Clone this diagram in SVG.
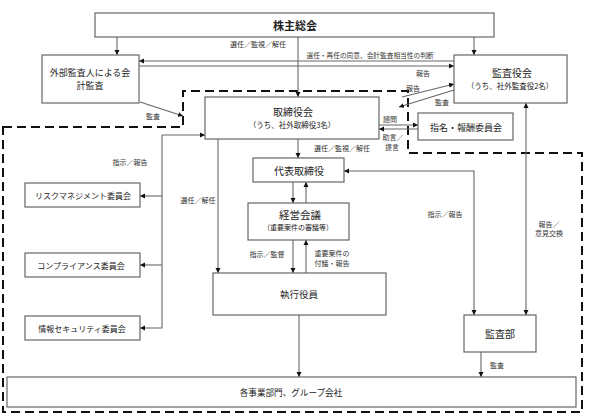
<svg xmlns="http://www.w3.org/2000/svg" width="592" height="414" viewBox="0 0 592 414">
<defs>
<marker id="ah" markerUnits="userSpaceOnUse" markerWidth="6" markerHeight="6" refX="5" refY="3" orient="auto-start-reverse">
<path d="M0,0.5 L5,3 L0,5.5 z" fill="#111"/>
</marker>
<style>
text{font-family:"Noto Sans CJK JP","Noto Sans",sans-serif;fill:#222;text-anchor:middle;dominant-baseline:central}
.box{fill:#fff;stroke:#666;stroke-width:1.2}
.ln{fill:none;stroke:#666;stroke-width:1.1}
.ae{marker-end:url(#ah)}
.ab{marker-start:url(#ah);marker-end:url(#ah)}
.lb{font-size:7px;fill:#333}
.sub{font-size:7.5px}
</style>
</defs>
<rect width="592" height="414" fill="#fff"/>
<path d="M3,127 H183 V91 H408 V153 H582 V412 H3 Z" fill="none" stroke="#111" stroke-width="2" stroke-dasharray="9 5"/>
<g id="connectors">
<path class="ln ae" d="M117,37 V55"/>
<path class="ln ae" d="M474,37 V55"/>
<path class="ln ae" d="M298,37 V97"/>
<path class="ln ae" d="M454,61 H139"/>
<path class="ln ae" d="M139,66 H454"/>
<path class="ln ae" d="M140,102 L183,116"/>
<path class="ln ae" d="M402,97 L454,84"/>
<path class="ln ae" d="M454,90 L399,107"/>
<path class="ln ae" d="M379,125 H418"/>
<path class="ln ae" d="M418,129 H379"/>
<path class="ln ae" d="M298,139 V158"/>
<path class="ln ae" d="M218,139 V273"/>
<path class="ln ae" d="M162,135 H205"/>
<path class="ln ae" d="M162,135 V328 H140"/>
<path class="ln ae" d="M162,196 H140"/>
<path class="ln ae" d="M162,265 H140"/>
<path class="ln ae" d="M293,182 V203"/>
<path class="ln ae" d="M306,203 V182"/>
<path class="ln ae" d="M293,240 V273"/>
<path class="ln ae" d="M306,273 V240"/>
<path class="ln ab" d="M474,315 V171 H344"/>
<path class="ln ab" d="M526,103 V315"/>
<path class="ln ae" d="M299,315 V377"/>
<path class="ln ae" d="M481,352 V377"/>
<text class="lb" x="258" y="44">選任／監視／解任</text>
<text class="lb" x="370" y="55" style="font-size:6.7px">選任・再任の同意、会計監査相当性の判断</text>
<text class="lb" x="423" y="73">報告</text>
<text class="lb" x="153" y="116">監査</text>
<text class="lb" x="413" y="88">報告</text>
<text class="lb" x="442" y="102">監査</text>
<text class="lb" x="390" y="119">諮問</text>
<text class="lb" x="393" y="137">助言／</text>
<text class="lb" x="392" y="147">提言</text>
<text class="lb" x="342" y="148">選任／監視／解任</text>
<text class="lb" x="130" y="162">指示／報告</text>
<text class="lb" x="198" y="200">選任／解任</text>
<text class="lb" x="445" y="214">指示／報告</text>
<text class="lb" x="549" y="224">報告／</text>
<text class="lb" x="549" y="233">意見交換</text>
<text class="lb" x="267" y="254">指示／監督</text>
<text class="lb" x="332" y="253">重要案件の</text>
<text class="lb" x="332" y="263">付議・報告</text>
<text class="lb" x="497" y="365">監査</text>
</g>
<g id="shareholders">
<rect class="box" x="95" y="13" width="399" height="24"/>
<text x="295" y="25" style="font-size:11px;font-weight:bold">株主総会</text>
</g>
<g id="external-audit">
<rect class="box" x="42" y="55" width="97" height="48"/>
<text x="90" y="72" style="font-size:9px">外部監査人による会</text>
<text x="90" y="85" style="font-size:9px">計監査</text>
</g>
<g id="audit-board">
<rect class="box" x="454" y="55" width="113" height="48"/>
<text x="512" y="72" style="font-size:10px">監査役会</text>
<text class="sub" x="510" y="85">（うち、社外監査役2名）</text>
</g>
<g id="board">
<rect class="box" x="205" y="97" width="174" height="42"/>
<text x="293" y="111" style="font-size:10px">取締役会</text>
<text class="sub" x="292" y="124">（うち、社外取締役3名）</text>
</g>
<g id="nomination">
<rect class="box" x="418" y="113" width="95" height="27"/>
<text x="466" y="127" style="font-size:9px">指名・報酬委員会</text>
</g>
<g id="representative">
<rect class="box" x="253" y="158" width="91" height="24"/>
<text x="299" y="170" style="font-size:10px">代表取締役</text>
</g>
<g id="management-meeting">
<rect class="box" x="248" y="203" width="101" height="37"/>
<text x="300" y="214" style="font-size:10.5px">経営会議</text>
<text class="sub" x="298" y="227" style="font-size:7px">（重要案件の審議等）</text>
</g>
<g id="officers">
<rect class="box" x="213" y="273" width="173" height="42"/>
<text x="299" y="294" style="font-size:9.5px">執行役員</text>
</g>
<g id="risk">
<rect class="box" x="25" y="183" width="115" height="24"/>
<text x="83" y="195" style="font-size:8px">リスクマネジメント委員会</text>
</g>
<g id="compliance">
<rect class="box" x="25" y="253" width="115" height="24"/>
<text x="81" y="265" style="font-size:8px">コンプライアンス委員会</text>
</g>
<g id="infosec">
<rect class="box" x="25" y="316" width="115" height="24"/>
<text x="82" y="328" style="font-size:8px">情報セキュリティ委員会</text>
</g>
<g id="internal-audit">
<rect class="box" x="464" y="315" width="72" height="37"/>
<text x="500" y="333" style="font-size:10px">監査部</text>
</g>
<g id="divisions">
<rect class="box" x="7" y="377" width="569" height="30"/>
<text x="291" y="392" style="font-size:8.6px">各事業部門、グループ会社</text>
</g>
</svg>
